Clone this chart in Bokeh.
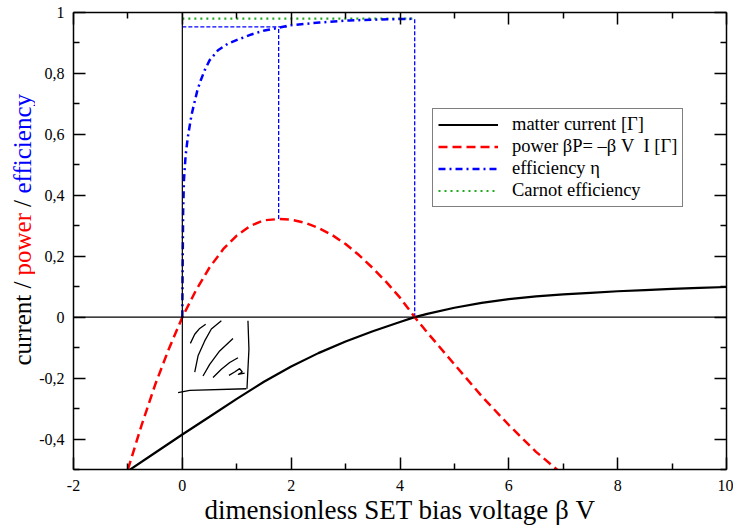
import math
from bokeh.plotting import figure
from bokeh.layouts import row
from bokeh.models import (FixedTicker, LinearAxis, CustomJSTickFormatter, Span, Label,
                          Legend, LegendItem, Range1d)
from bokeh.embed import file_html
from bokeh.resources import INLINE

# ---------------- data ----------------
x_ticks = [-2, 0, 2, 4, 6, 8, 10]
x_tick_labels = ["-2", "0", "2", "4", "6", "8", "10"]
x_minor = [-1, 1, 3, 5, 7, 9]
y_ticks = [-0.4, -0.2, 0.0, 0.2, 0.4, 0.6, 0.8, 1.0]
y_tick_labels = ["-0,4", "-0,2", "0", "0,2", "0,4", "0,6", "0,8", "1"]
y_minor = [-0.5, -0.3, -0.1, 0.1, 0.3, 0.5, 0.7, 0.9]

# matter current [Gamma]
cur_v = [-1.0, -0.5, 0.0, 0.5, 1.0, 1.5, 2.0, 2.5, 3.0, 3.5, 4.0, 4.27, 4.5, 5.0,
         5.5, 6.0, 6.5, 7.0, 7.5, 8.0, 8.5, 9.0, 9.5, 10.0]
cur_i = [-0.505, -0.445, -0.385, -0.327, -0.268, -0.212, -0.162, -0.118, -0.080,
         -0.046, -0.016, 0.0, 0.011, 0.031, 0.047, 0.059, 0.068, 0.075, 0.080,
         0.085, 0.089, 0.093, 0.096, 0.099]

# power beta P
pow_v = [-1.0, -0.75, -0.5, -0.25, 0.0, 0.25, 0.5, 0.75, 1.0, 1.25, 1.5, 1.77, 2.0,
         2.25, 2.5, 2.75, 3.0, 3.25, 3.5, 3.75, 4.0, 4.27, 4.5, 5.0, 5.5, 6.0, 6.5, 6.95]
pow_p = [-0.50, -0.355, -0.222, -0.105, 0.0, 0.088, 0.163, 0.223, 0.268, 0.300,
         0.318, 0.322, 0.320, 0.310, 0.293, 0.270, 0.240, 0.203, 0.161, 0.115,
         0.064, 0.0, -0.050, -0.155, -0.259, -0.354, -0.442, -0.51]

# efficiency eta
eff_v = [0.0, 0.005, 0.015, 0.03, 0.06, 0.1, 0.167, 0.21, 0.277, 0.337, 0.41, 0.50,
         0.655, 0.84, 1.02, 1.27, 1.51, 1.77, 1.97, 2.52, 3.07, 3.62, 4.17, 4.27]
eff = [0.0, 0.15, 0.35, 0.45, 0.53, 0.59, 0.662, 0.695, 0.745, 0.777, 0.81, 0.843,
       0.876, 0.898, 0.911, 0.928, 0.941, 0.950, 0.958, 0.967, 0.974, 0.977, 0.979, 0.980]

# marker values
mp_v = 1.77        # voltage of maximum power
mp_power = 0.322   # maximum power
mp_eff = 0.953     # efficiency at maximum power
mp_eff_end = 1.92  # end of the horizontal guide
stop_v = 4.27      # stopping voltage
carnot = 0.98      # Carnot efficiency

# hand-drawn hatched box (data coordinates)
sketch_xs = [
    [0.148, 0.228, 0.319, 0.429],
    [0.228, 0.289, 0.411, 0.533, 0.717],
    [0.380, 0.503, 0.686, 0.931],
    [0.564, 0.717, 0.870, 1.023],
    [0.857, 0.961, 1.053, 1.102, 1.023, 1.145],
    [-0.078, 0.136, 1.176],
    [1.206, 1.224, 1.188],
]
sketch_ys = [
    [-0.086, -0.056, -0.037, -0.023],
    [-0.180, -0.127, -0.078, -0.039, -0.012],
    [-0.193, -0.155, -0.111, -0.070],
    [-0.198, -0.171, -0.149, -0.133],
    [-0.191, -0.180, -0.169, -0.180, -0.188, -0.184],
    [-0.248, -0.240, -0.235],
    [-0.012, -0.105, -0.235],
]

# y-axis title pieces and colours
ylab_text = ["current /", "power", "/", "efficiency"]
ylab_color = ["black", "red", "black", "blue"]
xlab_text = "dimensionless SET bias voltage β V"

FONT = "Liberation Serif"
FW, FH = 653, 457
TW = 35                   # narrow strip holding the coloured y title
X0, X1, Y0, Y1 = -2, 10, -0.5, 1.0

p = figure(frame_width=FW, frame_height=FH,
           x_range=Range1d(X0, X1), y_range=Range1d(Y0, Y1),
           output_backend="svg", toolbar_location=None,
           min_border_left=38, min_border_right=7, min_border_top=12, min_border_bottom=50)
p.xgrid.visible = False
p.ygrid.visible = False
p.outline_line_color = None
p.background_fill_color = "white"
p.border_fill_color = "white"

fmt_code = """
for (let i = 0; i < tvals.length; i++) {
  if (Math.abs(tvals[i] - tick) < 1e-9) return tlabels[i];
}
return '';
"""
xfmt = CustomJSTickFormatter(args=dict(tvals=x_ticks, tlabels=x_tick_labels), code=fmt_code)
yfmt = CustomJSTickFormatter(args=dict(tvals=y_ticks, tlabels=y_tick_labels), code=fmt_code)


def style_axis(ax, ticks, minor, formatter, standoff):
    ax.ticker = FixedTicker(ticks=ticks, minor_ticks=minor)
    ax.formatter = formatter
    ax.axis_line_color = "black"
    ax.axis_line_width = 1.5
    ax.major_tick_line_color = "black"
    ax.major_tick_line_width = 1.5
    ax.minor_tick_line_color = "black"
    ax.minor_tick_line_width = 1.5
    ax.major_tick_in = 12
    ax.major_tick_out = 0
    ax.minor_tick_in = 6
    ax.minor_tick_out = 0
    ax.major_label_text_font = FONT
    ax.major_label_text_font_size = "16px"
    ax.major_label_text_color = "black"
    ax.major_label_standoff = standoff


style_axis(p.xaxis[0], x_ticks, x_minor, xfmt, 10)
style_axis(p.yaxis[0], y_ticks, y_minor, yfmt, 9)
p.xaxis[0].axis_label = xlab_text
p.xaxis[0].axis_label_text_font = FONT
p.xaxis[0].axis_label_text_font_size = "27px"
p.xaxis[0].axis_label_text_font_style = "normal"
p.xaxis[0].axis_label_text_color = "black"
p.xaxis[0].axis_label_standoff = 1

top = LinearAxis()
style_axis(top, x_ticks, x_minor, CustomJSTickFormatter(code="return '';"), 0)
p.add_layout(top, "above")
right = LinearAxis()
style_axis(right, y_ticks, y_minor, CustomJSTickFormatter(code="return '';"), 0)
p.add_layout(right, "right")

# zero lines
p.add_layout(Span(location=0, dimension="width", line_color="black", line_width=1.2))
p.add_layout(Span(location=0, dimension="height", line_color="black", line_width=1.2))

# guides
guide_kw = dict(line_color="blue", line_width=1.3, line_dash="4 2")
p.line([mp_v, mp_v], [mp_power, mp_eff], **guide_kw)
p.line([0, mp_eff_end], [mp_eff, mp_eff], **guide_kw)
p.line([stop_v, stop_v], [0, carnot], **guide_kw)

r_car = p.line([0, stop_v], [carnot, carnot], line_color="#22aa22", line_width=2.2, line_dash="2 4")
r_cur = p.line(cur_v, cur_i, line_color="black", line_width=2.2)
r_pow = p.line(pow_v, pow_p, line_color="red", line_width=2.5, line_dash="9 5")
r_eff = p.line(eff_v, eff, line_color="blue", line_width=2.5, line_dash="7 4 2 4")

# hand-drawn sketch
p.multi_line(sketch_xs, sketch_ys, line_color="black", line_width=1.3)

legend = Legend(items=[
    LegendItem(label="matter current [Γ]", renderers=[r_cur]),
    LegendItem(label="power βP= –β V\u00a0 I [Γ]", renderers=[r_pow]),
    LegendItem(label="efficiency η", renderers=[r_eff]),
    LegendItem(label="Carnot efficiency", renderers=[r_car]),
], location=(359, 262))
legend.label_text_font = FONT
legend.label_text_font_size = "18.5px"
legend.label_text_color = "black"
legend.glyph_width = 60
legend.glyph_height = 21
legend.label_height = 21
legend.label_standoff = 14
legend.spacing = 1
legend.padding = 5
legend.margin = 0
legend.border_line_color = "black"
legend.border_line_width = 1.5
legend.background_fill_color = "white"
legend.background_fill_alpha = 1.0
p.add_layout(legend)

# ---- narrow strip on the left carrying the multi-coloured y title ----
t = figure(width=TW, height=526, x_range=Range1d(0, 1), y_range=Range1d(0, 1),
           x_axis_type=None, y_axis_type=None, min_border=0,
           output_backend="svg", toolbar_location=None)
t.outline_line_color = None
t.xgrid.visible = False
t.ygrid.visible = False
t.background_fill_color = "white"
t.border_fill_color = "white"

# screen offsets from the strip frame's bottom-left (frame is aligned with the plot's)
ylab_start = [103, 193, 261.5, 275]
for txt, col, y0 in zip(ylab_text, ylab_color, ylab_start):
    t.add_layout(Label(x=21.5, y=y0, x_units="screen", y_units="screen", text=txt,
                       angle=math.pi / 2, text_align="left", text_baseline="alphabetic",
                       text_font=FONT, text_font_size="25px", text_color=col))

layout = row(t, p, spacing=0)
open("out.html", "w").write(file_html(layout, INLINE))
